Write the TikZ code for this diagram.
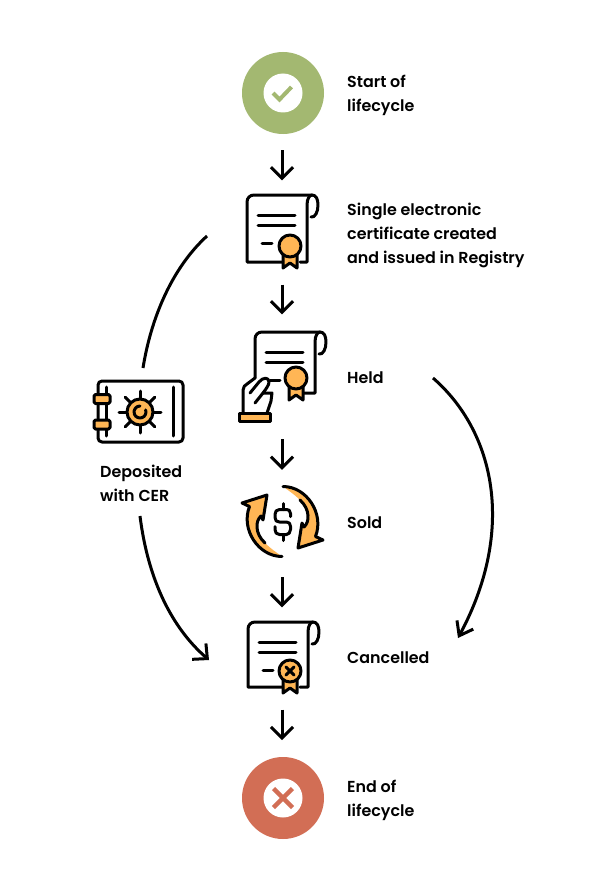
\documentclass[tikz,border=0pt]{standalone}
\usepackage{fontspec}
\setmainfont{Poppins SemiBold}
\usetikzlibrary{arrows.meta}
\definecolor{orangefill}{HTML}{FFB655}
\definecolor{startgreen}{HTML}{A3B871}
\definecolor{endred}{HTML}{D26E55}
\tikzset{
  flow/.style={line width=3pt,-{Straight Barb[length=11pt,width=22pt,line width=3pt]}},
  curveline/.style={line width=3pt},
  curveleft/.style={line width=3pt,-{Straight Barb[length=11pt,width=21pt,line width=3pt]}},
  curveright/.style={line width=3pt,-{Straight Barb[length=12.5pt,width=18.5pt,line width=3pt]}},
  icon/.style={line width=3pt,line cap=round,line join=round,draw=black},
  iconbox/.style={inner sep=0pt,minimum width=70pt},
  label/.style={anchor=west,align=left,inner sep=0pt,font=\fontsize{15.9pt}{24pt}\selectfont,text=black},
}
\newcommand{\certbody}[5]{%
  \begin{scope}[shift={(#1,#2)}]
    \draw[icon] (#4,#3) -- (0,#3) -- (0,7) .. controls (0,3) and (3,0) .. (7,0) -- (65,0);
    \draw[icon] (#5,#3) -- (60,#3) -- (60,10) .. controls (60,3) and (63,0) .. (65,0)
       .. controls (69,0) and (71,4) .. (71,10) .. controls (71,17) and (68,23) .. (64,22);
    \draw[icon] (11,20) -- (48,20) (11,30) -- (48,30) (15,48) -- (25,48);
  \end{scope}}
\newcommand{\medal}[2]{%
  \begin{scope}[shift={(#1,#2)}]
    \draw[icon,fill=orangefill] (-7,6) -- (-7,22) -- (0,17) -- (7,22) -- (7,6) -- cycle;
    \draw[icon,fill=orangefill] (0,0) circle[radius=11];
  \end{scope}}
\begin{document}
\begin{tikzpicture}[x=1pt,y=-1pt]
\useasboundingbox (0,0) rectangle (600,880);
\fill[white] (0,0) rectangle (600,880);

% start
\node[circle,fill=startgreen,minimum size=82pt,inner sep=0pt] (start) at (283,93) {};
\node[circle,fill=white,minimum size=39pt,inner sep=0pt] (startdot) at (283,93) {};
\draw[line width=4pt,draw=startgreen] (273,93) -- (279.5,99.5) -- (291.5,87);
\node[label] (startl) at (347,95) {Start of\\lifecycle};

% icon anchors
\node[iconbox,minimum height=67pt] (cert) at (282,228.5) {};
\node[iconbox,minimum height=92pt] (held) at (282,376) {};
\node[iconbox,minimum height=74pt] (sold) at (282,522) {};
\node[iconbox,minimum height=73pt] (cancel) at (282,658) {};
\node[circle,fill=endred,minimum size=82pt,inner sep=0pt] (end) at (283,798) {};
\node[circle,fill=white,minimum size=39pt,inner sep=0pt] (enddot) at (283,798) {};
\draw[line width=4.4pt,draw=endred] (273.5,788.5) -- (292.5,807.5) (292.5,788.5) -- (273.5,807.5);
\node[iconbox,minimum width=86pt,minimum height=62pt] (safe) at (140.5,411.5) {};

% cert
\certbody{247}{195}{67}{36}{53}
\medal{290}{246}

% held
\certbody{255}{332}{61}{8}{48}
\medal{296}{378}
\fill[white] (243,413) -- (243,389) -- (255,378) -- (260,380) -- (265,377) -- (269,380) -- (268,384)
  -- (263,393) -- (272,393) -- (271,401) -- (267,413) -- cycle;
\draw[icon] (243,413) -- (243,390) .. controls (243,387) and (245,385) .. (247,384) -- (255,378);
\draw[icon] (250,393) -- (259,382) .. controls (263,377) and (269,377) .. (269,382)
  .. controls (269,385) and (266,389) .. (263,393) -- (255,403);
\draw[icon] (263,393) -- (272,393) -- (271,401) -- (267,413);
\draw[icon,fill=orangefill] (239,413.5) rectangle (270,421);

% safe
\draw[icon,rounded corners=4pt] (98,381) rectangle (183,442);
\draw[icon] (173,387) -- (173,436) (106,387) -- (106,436);
\draw[icon,fill=orangefill,rounded corners=1.5pt] (94,394.5) rectangle (110,403.5);
\draw[icon,fill=orangefill,rounded corners=1.5pt] (94,420) rectangle (110,429);
\begin{scope}[shift={(140,412)}]
  \foreach \a in {0,45,...,315} {\draw[icon] (\a:12) -- (\a:21);}
  \draw[icon,fill=orangefill] (0,0) circle[radius=13];
  \draw[icon] (-20:6) arc[start angle=-20,end angle=270,radius=6];
\end{scope}

% sold
\begin{scope}[shift={(282.5,521.5)}]
  \foreach \r in {0,180} {
  \begin{scope}[rotate=\r]
    \fill[orangefill] (0.5,-35) .. controls (24,-35) and (42,-8) .. (33,15) -- (40.5,18.5) -- (15.5,26.5) -- (19.5,1.5) -- (21.5,5.5)
      .. controls (27,1) and (28,-12) .. (17.5,-21.5) .. controls (12,-27) and (6,-31) .. (0.5,-35) -- cycle;
    \draw[icon] (0.5,-35) .. controls (24,-35) and (42,-8) .. (33,15) -- (40.5,18.5) -- (15.5,26.5) -- (19.5,1.5) -- (21.5,5.5)
      .. controls (27,1) and (28,-12) .. (17.5,-21.5);
  \end{scope}}
  \draw[icon] (0.5,-18) -- (0.5,-12) (0.5,13) -- (0.5,19);
  \draw[icon] (8,-5) -- (8,-8) .. controls (8,-11) and (6,-12) .. (4,-12) -- (-3,-12) .. controls (-6,-12) and (-7.5,-10) .. (-7.5,-7)
    -- (-7.5,-4) .. controls (-7.5,-1) and (-6,0.5) .. (-3,0.5) -- (4,0.5) .. controls (6.5,0.5) and (8,2) .. (8,5) -- (8,8)
    .. controls (8,11) and (6,13) .. (4,13) -- (-3,13) .. controls (-6,13) and (-7.5,11) .. (-7.5,8) -- (-7.5,5);
\end{scope}

% cancel
\certbody{248}{622}{65}{35}{52}
\medal{290}{671}
\draw[line width=3pt,line cap=round] (286,667) -- (294,675) (294,667) -- (286,675);

% labels
\node[label] (certl) at (347,235) {Single electronic\\certificate created\\and issued in Registry};
\node[label] (heldl) at (347,378) {Held};
\node[label] (soldl) at (347,523) {Sold};
\node[label] (cancell) at (347,658) {Cancelled};
\node[label] (endl) at (347,800) {End of\\lifecycle};
\node[label] (safel) at (100,483) {Deposited\\with CER};

% flow arrows
\draw[flow,shorten <=16pt,shorten >=14.5pt] (282,134) -- (cert.north);
\draw[flow,shorten <=22.5pt,shorten >=15.5pt] (cert.south) -- (held.north);
\draw[flow,shorten <=17pt,shorten >=15pt] (held.south) -- (sold.north);
\draw[flow,shorten <=18pt,shorten >=14pt] (sold.south) -- (cancel.north);
\draw[flow,shorten <=15pt,shorten >=17pt] (cancel.south) -- (282,757);

% side curves
\coordinate (topin) at (207,236);
\coordinate (cancelleft) at (209,660);
\coordinate (heldright) at (433,378);
\coordinate (cancelright) at (458,638);
\draw[curveline] (143,368) .. controls (151,318) and (172,268) .. (topin);
\draw[curveleft] (140,516) .. controls (148,580) and (172,628) .. (cancelleft);
\draw[curveright] (heldright) .. controls (495,432) and (516,530) .. (cancelright);
\end{tikzpicture}
\end{document}
